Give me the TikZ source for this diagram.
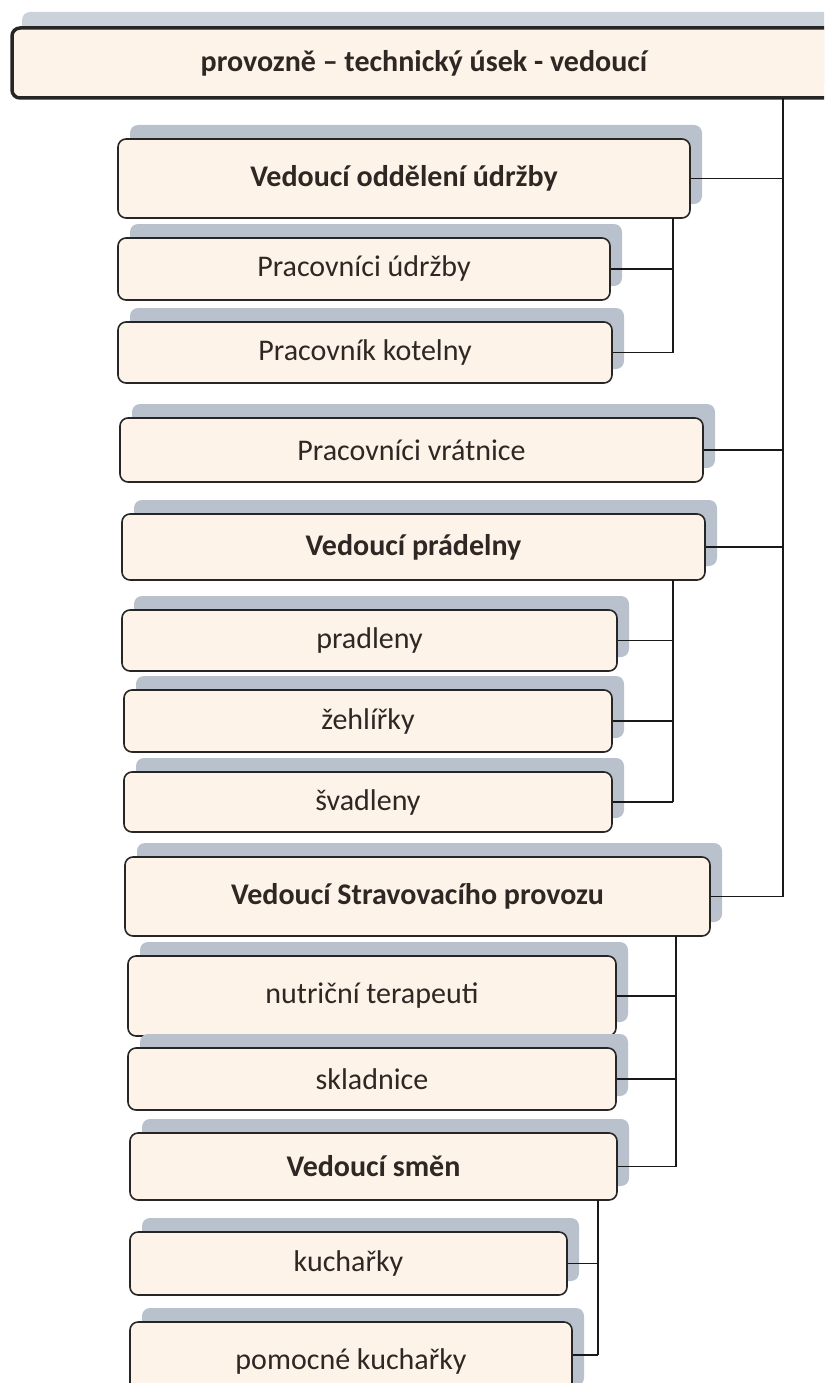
\documentclass[tikz,border=0pt]{standalone}
\usepackage{fontspec}
\setmainfont{Carlito}
\definecolor{boxfill}{HTML}{FDF3E8}
\definecolor{shadowcol}{HTML}{B8C1CC}
\definecolor{topshadow}{HTML}{CBD2DA}
\definecolor{textcol}{HTML}{2E2723}
\newcommand{\obox}[7]{%
  \fill[shadowcol, rounded corners=8pt] ({#3+12},{#4-14}) rectangle ({#5+12},{#6-14});
  \node[box,#1, minimum width={#5-#3}, minimum height={#6-#4}] (#2) at ({(#3+#5)/2},{(#4+#6)/2}) {#7};
}
\begin{document}
\begin{tikzpicture}[x=1pt,y=-1pt,
  box/.style={draw=black!85, line width=1.6pt, rounded corners=8pt, fill=boxfill,
    text=textcol, inner sep=0pt, font=\fontsize{30}{34}\selectfont},
  bold/.style={font=\fontsize{30}{34}\selectfont\bfseries},
  conn/.style={line width=1.3pt, draw=black!90}]
\useasboundingbox (0,0) rectangle (824,1383);
\begin{scope}
\clip (0,0) rectangle (824,1383);
% top box
\fill[topshadow, rounded corners=8pt] (22,12) rectangle (850,84);
\node[box, line width=3.5pt, minimum width=838, minimum height=70] (top) at (431,63) {};
\node[text=textcol, font=\fontsize{30}{34}\selectfont\bfseries] (toptext) at (424,63) {provozně – technický úsek - vedoucí};

\obox{bold}{udr}{118}{139}{690}{218}{Vedoucí oddělení údržby}
\obox{}{pu}{118}{238}{610}{300}{Pracovníci údržby}
\obox{}{kot}{118}{322}{612}{383}{Pracovník kotelny}
\obox{}{vrat}{120}{418}{703}{482}{Pracovníci vrátnice}
\obox{bold}{prad}{122}{514}{705}{580}{Vedoucí prádelny}
\obox{}{pradl}{122}{610}{617}{671}{pradleny}
\obox{}{zeh}{124}{690}{612}{752}{žehlířky}
\obox{}{sva}{124}{772}{612}{832}{švadleny}
\obox{bold}{strav}{125}{857}{710}{936}{Vedoucí Stravovacího provozu}
\obox{}{nutr}{128}{956}{616}{1036}{nutriční terapeuti}
\obox{}{skl}{128}{1048}{616}{1110}{skladnice}
\obox{bold}{smen}{130}{1133}{617}{1200}{Vedoucí směn}
\obox{}{kuch}{130}{1232}{567}{1295}{kuchařky}
\obox{}{pkuch}{130}{1322}{572}{1400}{pomocné kuchařky}

% main trunk
\coordinate (t0) at (783,98);
\draw[conn] (t0) -- (t0 |- strav.east);
\foreach \n in {udr,vrat,prad,strav} \draw[conn] (\n.east) -- (\n.east -| t0);
% udrzba branch
\coordinate (u0) at (673,218);
\draw[conn] (u0) -- (u0 |- kot.east);
\foreach \n in {pu,kot} \draw[conn] (\n.east) -- (\n.east -| u0);
% pradelna branch
\coordinate (p0) at (673,580);
\draw[conn] (p0) -- (p0 |- sva.east);
\foreach \n in {pradl,zeh,sva} \draw[conn] (\n.east) -- (\n.east -| p0);
% strav branch
\coordinate (s0) at (676,936);
\draw[conn] (s0) -- (s0 |- smen.east);
\foreach \n in {nutr,skl,smen} \draw[conn] (\n.east) -- (\n.east -| s0);
% smen branch
\coordinate (m0) at (598,1200);
\coordinate (m1) at (598,1355);
\draw[conn] (m0) -- (m1);
\draw[conn] (kuch.east) -- (kuch.east -| m0);
\draw[conn] (m1 -| pkuch.east) -- (m1);
\end{scope}
\end{tikzpicture}
\end{document}
